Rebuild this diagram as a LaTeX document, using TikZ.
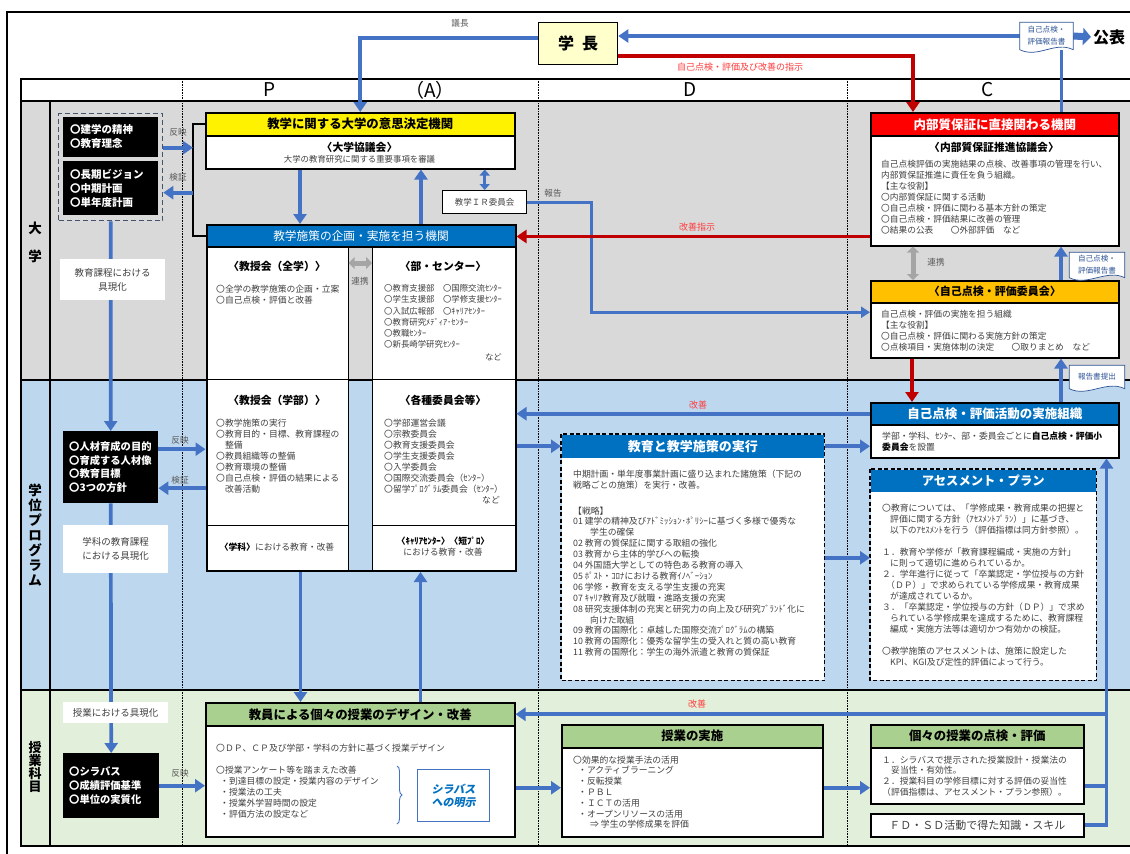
\documentclass[tikz,border=0pt]{standalone}
\usepackage{fontspec}
\setmainfont{Noto Sans CJK JP}
\newfontfamily\slfont{Noto Sans CJK JP}[FakeSlant=0.2]
\usetikzlibrary{arrows.meta,calc,decorations.pathreplacing}
\definecolor{arrblue}{HTML}{4472C4}
\definecolor{darkred}{HTML}{C00000}
\definecolor{rowgray}{HTML}{D9D9D9}
\definecolor{rowblue}{HTML}{BDD7EE}
\definecolor{rowgreen}{HTML}{E2EFDA}
\definecolor{hblue}{HTML}{0070C0}
\definecolor{hgreen}{HTML}{A9D08E}
\definecolor{horange}{HTML}{FFC000}
\definecolor{hred}{HTML}{FF0000}
\definecolor{pale}{HTML}{FFFFCC}
\definecolor{txtgray}{HTML}{404040}
\definecolor{labgray}{HTML}{595959}
\definecolor{docblue}{HTML}{2F5597}
\definecolor{redtxt}{HTML}{FF3B3B}
\definecolor{dashcol}{HTML}{44546A}
\definecolor{arrgray}{HTML}{A5A5A5}
\tikzset{
 bx/.style 2 args={draw=black, line width=1.5pt, fill=white, anchor=north west, inner sep=0pt, minimum width=#1pt, minimum height=#2pt},
 hd/.style 2 args={draw=black, line width=1.5pt, anchor=north west, inner sep=0pt, minimum width=#1pt, minimum height=#2pt, font=\bfseries\fontsize{12.4}{14}\selectfont},
 subbx/.style 2 args={draw=black, line width=0.7pt, fill=white, anchor=north west, inner sep=0pt, minimum width=#1pt, minimum height=#2pt},
 blk/.style 2 args={fill=black, anchor=north west, inner sep=0pt, minimum width=#1pt, minimum height=#2pt},
 blktx/.style={text=white, anchor=west, align=left, inner sep=0pt, font=\bfseries\fontsize{10.5}{14}\selectfont},
 tx/.style={anchor=north west, align=left, inner sep=0pt, text=txtgray, font=\fontsize{8.8}{11}\selectfont},
 ttl/.style={inner sep=0pt, text=black, font=\bfseries\fontsize{10.8}{13}\selectfont},
 smlab/.style={inner sep=0pt, text=labgray, font=\fontsize{8.6}{10}\selectfont},
 redlab/.style={inner sep=0pt, text=redtxt, font=\fontsize{9}{10}\selectfont},
 labbox/.style 2 args={fill=white, inner sep=0pt, minimum width=#1pt, minimum height=#2pt, align=center, text=txtgray, font=\fontsize{9.5}{14}\selectfont},
 barrow/.style={draw=arrblue, line width=3.7pt, -{Triangle[length=10pt,width=13pt]}},
 bline/.style={draw=arrblue, line width=3.7pt},
 rarrow/.style={draw=darkred, line width=3.7pt, -{Triangle[length=10pt,width=13pt]}},
 docst/.style={draw=docblue, line width=0.7pt, fill=white},
 docgeo/.style 2 args={inner sep=0pt, minimum width=#1pt, minimum height=#2pt},
 doctx/.style={inner sep=0pt, align=center, text=docblue, font=\fontsize{7.6}{12}\selectfont},
 grayarr/.style={draw=arrgray, line width=5pt, {Triangle[length=6pt,width=12pt]}-{Triangle[length=6pt,width=12pt]}},
 tline/.style={line width=1.5pt},
 dotl/.style={densely dotted, line width=0.6pt},
 hdrlet/.style={inner sep=0pt, font=\fontsize{19}{19}\selectfont},
}
\begin{document}
\begin{tikzpicture}[x=1pt,y=-1pt]
\useasboundingbox (0,0) rectangle (1130,854);
\fill[white] (0,0) rectangle (1130,854);
% ---------- table background ----------
\fill[rowgray] (21,101) rectangle (1130,380);
\fill[rowblue] (21,380) rectangle (1130,690);
\fill[rowgreen] (21,690) rectangle (1130,846);
\foreach \xx in {182,538,847} \draw[dotl] (\xx,79) -- (\xx,846);
\draw[tline] (1130,79) -- (21,79) -- (21,846) -- (1130,846);
\draw[tline] (21,101) -- (1130,101);
\draw[tline] (21,380) -- (1130,380);
\draw[tline] (21,690) -- (1130,690);
\draw[tline] (50,101) -- (50,846);
\draw[line width=2pt] (7,854) -- (7,12) -- (1130,12);
% header letters
\node[hdrlet] (hP) at (270,90) {P};
\node[hdrlet] (hA) at (430,90) {（A）};
\node[hdrlet] (hD) at (690,90) {D};
\node[hdrlet] (hC) at (988,90) {C};
% row labels
\node[align=center, inner sep=0pt, font=\bfseries\fontsize{13.5}{28}\selectfont] (rl1) at (35,242) {大\\学};
\node[align=center, inner sep=0pt, font=\bfseries\fontsize{13.5}{15}\selectfont] (rl2) at (35,535) {学\\位\\プ\\ロ\\グ\\ラ\\ム};
\node[align=center, inner sep=0pt, font=\bfseries\fontsize{13}{13.2}\selectfont] (rl3) at (35,767) {授\\業\\科\\目};

% ---------- top ----------
\node[draw=black, line width=1.3pt, fill=pale, anchor=north west, inner sep=0pt, minimum width=79pt, minimum height=42pt, font=\bfseries\fontsize{16}{16}\selectfont] (gakucho) at (538,22) {学\hspace{0.5em}長};
\node[smlab] (gicho) at (460,23) {議長};
\node[redlab] (shiji) at (740,67) {自己点検・評価及び改善の指示};
\node[docgeo={53}{27}] (doc1) at (1046.5,36) {};
\node[anchor=west, inner sep=0pt, font=\bfseries\fontsize{16}{16}\selectfont] (kohyo) at (1093,37) {公表};

% ---------- left column ----------
\node[draw=dashcol, dash pattern=on 5pt off 3pt, line width=1.3pt, anchor=north west, inner sep=0pt, minimum width=104pt, minimum height=107pt] (dashbox) at (58,113) {};
\node[blk={95}{40}] (b1) at (63,117) {};
\node[blktx] (b1t) at (70,137) {〇建学の精神\\〇教育理念};
\node[blk={95}{54}] (b2) at (63,161) {};
\node[blktx] (b2t) at (70,188) {〇長期ビジョン\\〇中期計画\\〇単年度計画};
\node[blk={95}{72}] (b3) at (63,431) {};
\node[blktx, font=\bfseries\fontsize{10.3}{13.4}\selectfont] (b3t) at (69,467) {〇人材育成の目的\\〇育成する人材像\\〇教育目標\\〇3つの方針};
\node[blk={96}{65}] (b4) at (63,753) {};
\node[blktx, font=\bfseries\fontsize{10.3}{14}\selectfont] (b4t) at (69,785.5) {〇シラバス\\〇成績評価基準\\〇単位の実質化};

% ---------- P(A) column ----------
\node[bx={309}{56}] (kyogi) at (205,112) {};
\node[hd={309}{23}, fill=yellow] (kyogiH) at (205,112) {教学に関する大学の意思決定機関};
\node[ttl] (kyogiT) at (359.5,147) {〈大学協議会〉};
\node[inner sep=0pt, text=txtgray, font=\fontsize{8.4}{10}\selectfont] (kyogiS) at (359.5,159.5) {大学の教育研究に関する重要事項を審議};
\node[draw=black, line width=1.4pt, fill=white, anchor=north west, inner sep=0pt, minimum width=84pt, minimum height=23pt, text=txtgray, font=\fontsize{8.5}{10}\selectfont] (ir) at (442,190) {教学ＩＲ委員会};

\node[subbx={142}{133}] (zen) at (206,246) {};
\node[subbx={142.5}{133}] (bu) at (372,246) {};
\node[subbx={142}{146}] (gakubu) at (206,379) {};
\node[subbx={142.5}{146}] (iin) at (372,379) {};
\node[subbx={142}{45}] (gakka) at (206,525) {};
\node[subbx={142.5}{45}] (career) at (372,525) {};
\node[draw=black, line width=2pt, anchor=north west, inner sep=0pt, minimum width=309pt, minimum height=346pt] (big) at (205.5,224) {};
\node[hd={309}{22}, fill=hblue, line width=2pt, text=white, font=\fontsize{11.7}{13}\selectfont] (bigH) at (205.5,224) {教学施策の企画・実施を担う機関};
\draw[grayarr] ([yshift=-17pt]zen.north east) -- ([yshift=-17pt]bu.north west);
\node[smlab] (renkei1) at (360,281) {連携};
\node[ttl] (zenT) at (277,266) {〈教授会（全学）〉};
\node[tx] (zenI) at (216,284.5) {〇全学の教学施策の企画・立案\\〇自己点検・評価と改善};
\node[ttl] (buT) at (443,266) {〈部・センター〉};
\node[tx, font=\fontsize{8.4}{11.2}\selectfont] (buI) at (384,284.5) {〇教育支援部　〇国際交流ｾﾝﾀｰ\\〇学生支援部　〇学修支援ｾﾝﾀｰ\\〇入試広報部　〇ｷｬﾘｱｾﾝﾀｰ\\〇教育研究ﾒﾃﾞｨｱ･ｾﾝﾀｰ\\〇教職ｾﾝﾀｰ\\〇新長崎学研究ｾﾝﾀｰ};
\node[tx, anchor=east, font=\fontsize{8.4}{11}\selectfont] (buN) at (502,357) {など};
\node[ttl] (gakubuT) at (277,400) {〈教授会（学部）〉};
\node[tx] (gakubuI) at (216,418.5) {〇教学施策の実行\\〇教育目的・目標、教育課程の\\\hspace*{8.8pt}整備\\〇教員組織等の整備\\〇教育環境の整備\\〇自己点検・評価の結果による\\\hspace*{8.8pt}改善活動};
\node[ttl] (iinT) at (443,400) {〈各種委員会等〉};
\node[tx] (iinI) at (384,418.5) {〇学部運営会議\\〇宗教委員会\\〇教育支援委員会\\〇学生支援委員会\\〇入学委員会\\〇国際交流委員会（ｾﾝﾀｰ）\\〇留学ﾌﾟﾛｸﾞﾗﾑ委員会（ｾﾝﾀｰ）};
\node[tx, anchor=east] (iinN) at (500,500) {など};
\node[tx, anchor=center] (gakkaT) at (277,547.5) {{\bfseries\color{black}〈学科〉}における教育・改善};
\node[tx, anchor=center, align=center] (careerT) at (443,547) {{\bfseries\color{black}〈ｷｬﾘｱｾﾝﾀｰ〉〈短ﾌﾟﾛ〉}\\における教育・改善};

% design box
\node[bx={309}{134}] (design) at (205,702) {};
\node[hd={309}{23}, fill=hgreen] (designH) at (205,702) {教員による個々の授業のデザイン・改善};
\node[tx, anchor=west] (designA) at (216,748) {〇ＤＰ、ＣＰ及び学部・学科の方針に基づく授業デザイン};
\node[tx] (designB) at (216,765.5) {〇授業アンケート等を踏まえた改善\\\hspace*{4pt}・到達目標の設定・授業内容のデザイン\\\hspace*{4pt}・授業法の工夫\\\hspace*{4pt}・授業外学習時間の設定\\\hspace*{4pt}・評価方法の設定など};
\node[draw=arrblue, line width=1pt, fill=white, anchor=north west, inner sep=0pt, minimum width=72pt, minimum height=52pt, align=center, text=hblue, font=\slfont\bfseries\fontsize{11}{13}\selectfont] (syl) at (417,769) {シラバス\\への明示};
\draw[arrblue, line width=0.9pt, decorate, decoration={brace, amplitude=5pt}] ([xshift=-20pt,yshift=3pt]syl.north west) -- ([xshift=-20pt,yshift=-2pt]syl.south west);

% ---------- D column ----------
\node[bx={262}{245}, draw=none] (dbox) at (561,434) {};
\node[hd={262}{23}, fill=hblue, draw=none, text=white, font=\bfseries\fontsize{13}{14}\selectfont] (dH) at (561,434) {教育と教学施策の実行};
\draw[dash pattern=on 4pt off 2.5pt, line width=1.5pt] (dbox.north west) rectangle (dbox.south east);
\node[tx, font=\fontsize{8.8}{10.9}\selectfont] (dT) at (573,469.5) {中期計画・単年度事業計画に盛り込まれた諸施策（下記の\\戦略ごとの施策）を実行・改善。\\[15pt]【戦略】\\01 建学の精神及びｱﾄﾞﾐｯｼｮﾝ･ﾎﾟﾘｼｰに基づく多様で優秀な\\\hspace*{17pt}学生の確保\\02 教育の質保証に関する取組の強化\\03 教育から主体的学びへの転換\\04 外国語大学としての特色ある教育の導入\\05 ﾎﾟｽﾄ・ｺﾛﾅにおける教育ｲﾉﾍﾞｰｼｮﾝ\\06 学修・教育を支える学生支援の充実\\07 ｷｬﾘｱ教育及び就職・進路支援の充実\\08 研究支援体制の充実と研究力の向上及び研究ﾌﾞﾗﾝﾄﾞ化に\\\hspace*{17pt}向けた取組\\09 教育の国際化：卓越した国際交流ﾌﾟﾛｸﾞﾗﾑの構築\\10 教育の国際化：優秀な留学生の受入れと質の高い教育\\11 教育の国際化：学生の海外派遣と教育の質保証};

\node[bx={261}{112}] (jisshu) at (561,724) {};
\node[hd={261}{23}, fill=hgreen] (jisshuH) at (561,724) {授業の実施};
\node[tx, font=\fontsize{8.8}{10.8}\selectfont] (jisshuT) at (573,755.5) {〇効果的な授業手法の活用\\\hspace*{5pt}・アクティブラーニング\\\hspace*{5pt}・反転授業\\\hspace*{5pt}・ＰＢＬ\\\hspace*{5pt}・ＩＣＴの活用\\\hspace*{5pt}・オープンリソースの活用\\\hspace*{17pt}⇒ 学生の学修成果を評価};

% ---------- C column ----------
\node[bx={248}{133}] (naibu) at (870,112) {};
\node[hd={248}{23}, fill=hred, text=white, font=\bfseries\fontsize{12.5}{14}\selectfont] (naibuH) at (870,112) {内部質保証に直接関わる機関};
\node[ttl] (naibuT) at (994,147) {〈内部質保証推進協議会〉};
\node[tx, font=\fontsize{8.7}{11}\selectfont] (naibuI) at (881,159.5) {自己点検評価の実施結果の点検、改善事項の管理を行い、\\内部質保証推進に責任を負う組織。\\【主な役割】\\〇内部質保証に関する活動\\〇自己点検・評価に関わる基本方針の策定\\〇自己点検・評価結果に改善の管理\\〇結果の公表　　〇外部評価　など};

\node[bx={248}{77}] (iinkai) at (870,280) {};
\node[hd={248}{22}, fill=horange, font=\bfseries\fontsize{11}{13}\selectfont] (iinkaiH) at (870,280) {〈自己点検・評価委員会〉};
\node[tx, font=\fontsize{8.7}{11}\selectfont] (iinkaiI) at (881,309.5) {自己点検・評価の実施を担う組織\\【主な役割】\\〇自己点検・評価に関わる実施方針の策定\\〇点検項目・実施体制の決定　　〇取りまとめ　など};

\node[bx={248}{55}] (jisshi) at (870,402) {};
\node[hd={248}{22}, fill=hblue, text=white, font=\bfseries\fontsize{12.5}{14}\selectfont] (jisshiH) at (870,402) {自己点検・評価活動の実施組織};
\node[tx, font=\fontsize{8.8}{11}\selectfont] (jisshiI) at (882,431.5) {学部・学科、ｾﾝﾀｰ、部・委員会ごとに{\bfseries\color{black}自己点検・評価小}\\{\bfseries\color{black}委員会}を設置};

\node[bx={225}{210}, draw=none] (assess) at (870,469) {};
\node[hd={225}{22}, fill=hblue, draw=none, text=white, font=\bfseries\fontsize{12.3}{14}\selectfont] (assessH) at (870,469) {アセスメント・プラン};
\draw[dash pattern=on 4pt off 2.5pt, line width=1.5pt] (assess.north west) rectangle (assess.south east);
\node[tx, font=\fontsize{8.8}{11}\selectfont] (assessI) at (882,503.5) {〇教育については、「学修成果・教育成果の把握と\\\hspace*{8pt}評価に関する方針（ｱｾｽﾒﾝﾄﾌﾟﾗﾝ）」に基づき、\\\hspace*{8pt}以下のｱｾｽﾒﾝﾄを行う（評価指標は同方針参照）。\\[11pt]１．教育や学修が「教育課程編成・実施の方針」\\\hspace*{8pt}に則って適切に進められているか。\\２．学年進行に従って「卒業認定・学位授与の方針\\\hspace*{4pt}（ＤＰ）」で求められている学修成果・教育成果\\\hspace*{8pt}が達成されているか。\\３．「卒業認定・学位授与の方針（ＤＰ）」で求め\\\hspace*{8pt}られている学修成果を達成するために、教育課程\\\hspace*{8pt}編成・実施方法等は適切かつ有効かの検証。\\[11pt]〇教学施策のアセスメントは、施策に設定した\\\hspace*{8pt}KPI、KGI及び定性的評価によって行う。};

\node[bx={213}{79}] (tenken) at (870,724) {};
\node[hd={213}{23}, fill=hgreen] (tenkenH) at (870,724) {個々の授業の点検・評価};
\node[tx, font=\fontsize{8.8}{10.8}\selectfont] (tenkenI) at (882,755.5) {１．シラバスで提示された授業設計・授業法の\\\hspace*{9pt}妥当性・有効性。\\２．授業科目の学修目標に対する評価の妥当性\\（評価指標は、アセスメント・プラン参照）。};
\node[bx={213}{23}, text=txtgray, font=\fontsize{11}{12}\selectfont] (fd) at (870,813) {ＦＤ・ＳＤ活動で得た知識・スキル};

\node[docgeo={55}{25}] (doc2) at (1097,265) {};
\node[docgeo={55}{23}] (doc3) at (1097,377) {};

% ---------- connectors ----------
\draw[barrow] ([yshift=6pt]gakucho.west) -| (kyogiH.north);
\draw[bline] ([xshift=15pt]doc1.south) -- ([xshift=15pt]doc1.south |- naibuH.north);
\draw[barrow] (doc1.west) -- (doc1.west -| gakucho.east);
\draw[rarrow] ([yshift=-12pt]gakucho.east) -| ([xshift=43pt]naibuH.north west);
\draw[line width=7pt, draw=arrblue, -{Triangle[length=8pt,width=17pt]}] (doc1.east) -- ([xshift=-2pt]kohyo.west);

\coordinate (brk) at ([xshift=-12pt]kyogiH.west);
\draw[line width=2pt] (kyogiH.west) -- (brk) |- (bigH.west);
\draw[barrow] ([yshift=19.5pt]dashbox.east) -- ([yshift=19.5pt]dashbox.east -| brk);
\draw[barrow] ([yshift=-25.5pt]dashbox.east -| brk) -- ([yshift=-25.5pt]dashbox.east);
\node[smlab] (hanei1) at (178,132) {反映};
\node[smlab] (kensho1) at (178,177) {検証};

\draw[barrow] (dashbox.south) -- (b3.north);
\node[labbox={105}{41}] (lab1) at (112.5,279.5) {教育課程における\\具現化};
\draw[barrow] ([yshift=18pt]b3.east) -- ([yshift=18pt]b3.east -| big.west);
\draw[barrow] ([yshift=-21pt]b3.east -| big.west) -- ([yshift=-21pt]b3.east);
\node[smlab] (hanei2) at (180,440) {反映};
\node[smlab] (kensho2) at (180,480) {検証};
\draw[barrow] (b3.south) -- (b4.north);
\node[labbox={105}{48}] (lab2) at (115.5,549) {学科の教育課程\\における具現化};
\node[labbox={105}{21}] (lab3) at (115.5,712.5) {授業における具現化};
\draw[barrow] (b4.east) -- (b4.east -| design.west);
\node[smlab] (hanei3) at (180,773) {反映};

\draw[barrow] ([xshift=95pt]kyogi.south west) -- ([xshift=95pt]kyogi.south west |- big.north);
\draw[barrow] ([xshift=216pt]kyogi.south west |- big.north) -- ([xshift=216pt]kyogi.south west);
\draw[draw=arrblue, line width=3pt, {Triangle[length=6pt,width=10pt]}-{Triangle[length=6pt,width=10pt]}] (ir.north) -- (ir.north |- kyogi.south);
\draw[draw=arrblue, line width=2.6pt, -{Triangle[length=9pt,width=11pt]}] (ir.east) -- ++(64,0) |- ([yshift=7pt]iinkai.west);
\node[smlab] (hokoku) at (553,193) {報告};

\draw[rarrow] ([yshift=10pt]naibu.south west) -- ([yshift=10pt]naibu.south west -| big.east);
\node[redlab] (kaizenshiji) at (697,227) {改善指示};
\draw[grayarr] ([xshift=43pt]naibu.south west) -- ([xshift=43pt]iinkai.north west);
\node[smlab] (renkei2) at (936,262) {連携};
\draw[barrow] ([xshift=191pt]iinkai.north west) -- ([xshift=191pt]iinkai.north west |- naibu.south);
\draw[rarrow] ([xshift=42pt]iinkai.south west) -- ([xshift=42pt]iinkai.south west |- jisshi.north);
\draw[barrow] ([xshift=191pt]jisshi.north west) -- ([xshift=191pt]jisshi.north west |- iinkai.south);

\draw[barrow] (jisshiH.west) -- (jisshiH.west -| big.east);
\node[redlab] (kaizen1) at (698,405) {改善};
\draw[barrow] (dH.west -| big.east) -- (dH.west);
\draw[barrow] (dH.east) -- (dH.east -| jisshi.west);
\draw[barrow] ([yshift=17pt]assess.west -| dbox.east) -- ([yshift=17pt]assess.west);

\draw[barrow] ([xshift=95pt]big.south west) -- ([xshift=95pt]big.south west |- design.north);
\draw[barrow] ([xshift=215pt]big.south west |- design.north) -- ([xshift=215pt]big.south west);

\coordinate (vx) at ([xshift=-13pt]jisshi.south east);
\draw[barrow] (fd.east) -| (vx);
\draw[bline] ([yshift=-21.5pt]tenken.east) -- ([yshift=-21.5pt]tenken.east -| vx);
\draw[barrow] (vx |- designH.east) -- (designH.east);
\node[redlab] (kaizen2) at (697,704) {改善};
\draw[barrow] ([yshift=-18pt]design.east) -- ([yshift=-18pt]design.east -| jisshu.west);
\draw[barrow] ([yshift=-7pt]jisshu.east) -- ([yshift=-7pt]jisshu.east -| tenken.west);

% ---------- documents ----------
\foreach \d in {doc1,doc2,doc3}
  \draw[docst] (\d.north west) -- (\d.north east) -- (\d.south east) .. controls ([xshift=-18pt,yshift=9pt]\d.south east) and ([xshift=18pt,yshift=-9pt]\d.south west) .. (\d.south west) -- cycle;
\node[doctx] (doc1t) at (doc1) {自己点検・\\評価報告書};
\node[doctx] (doc2t) at (doc2) {自己点検・\\評価報告書};
\node[doctx] (doc3t) at (doc3) {報告書提出};
\end{tikzpicture}
\end{document}
